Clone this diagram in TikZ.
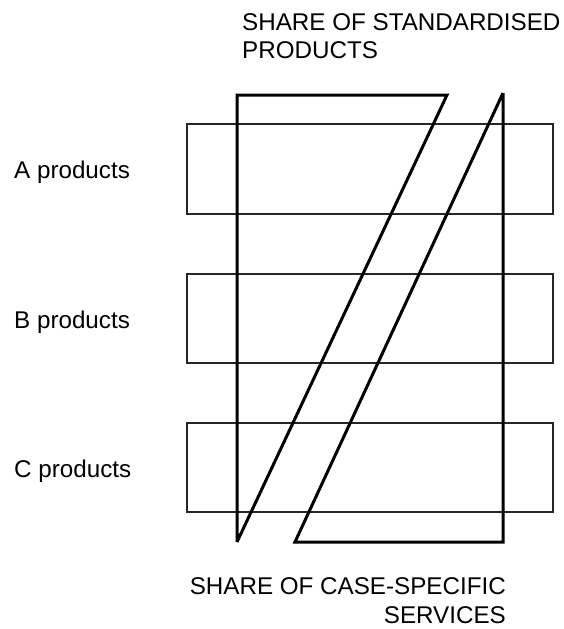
\documentclass[tikz,border=0pt]{standalone}
\usepackage{fontspec}
\setmainfont{Liberation Sans}
\begin{document}
\begin{tikzpicture}[x=1pt,y=-1pt,
  band/.style={draw=black!85,line width=1.5pt},
  share/.style={draw=black,line width=3pt,line join=miter},
  lbl/.style={font=\fontsize{24.2}{28}\selectfont,inner sep=0pt},
]
\useasboundingbox (0,0) rectangle (564,629);
% bands
\draw[band] (187,124) rectangle (553,214);
\draw[band] (187,274) rectangle (553,363);
\draw[band] (187,423) rectangle (553,512);
% share shapes
\coordinate (s1a) at (237,542);
\coordinate (s1b) at (237,95);
\coordinate (s1c) at (447,95);
\draw[share] (s1a) -- (s1b) -- (s1c) -- (s1a);
\coordinate (s2a) at (503,93);
\coordinate (s2b) at (503,542);
\coordinate (s2c) at (295,542);
\draw[share] (s2a) -- (s2b) -- (s2c) -- (s2a);
% labels
\node[lbl,anchor=base west] (la) at (14,178) {A products};
\node[lbl,anchor=base west] (lb) at (14,328) {B products};
\node[lbl,anchor=base west] (lc) at (14,477) {C products};
\node[lbl,anchor=base west] (t1) at (242,30) {SHARE OF STANDARDISED};
\node[lbl,anchor=base west] (t2) at (242,58) {PRODUCTS};
\node[lbl,anchor=base east] (b1) at (506,594) {SHARE OF CASE-SPECIFIC};
\node[lbl,anchor=base east] (b2) at (506,623) {SERVICES};
\end{tikzpicture}
\end{document}
